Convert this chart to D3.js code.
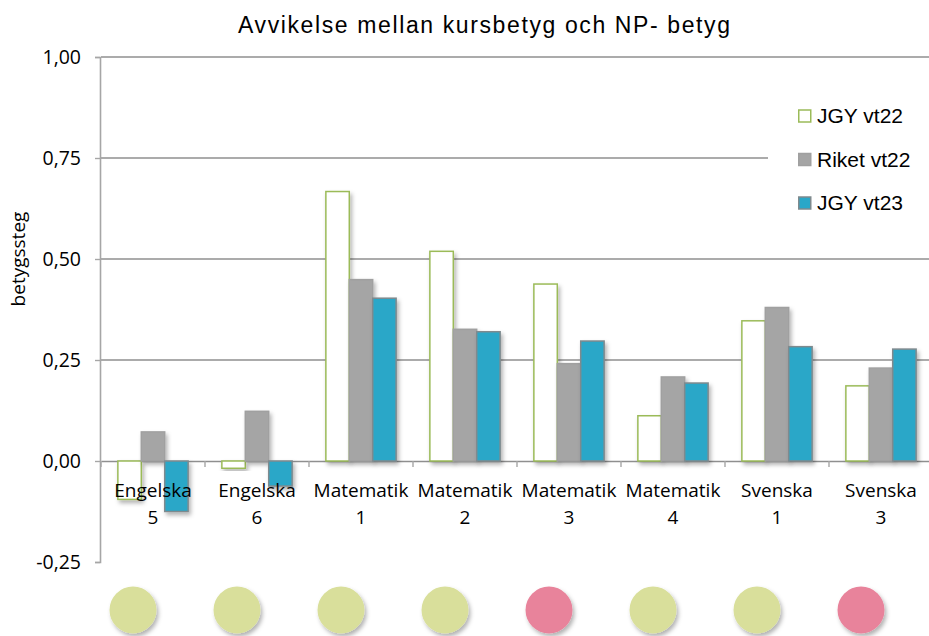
<!DOCTYPE html>
<html>
<head>
<meta charset="utf-8">
<script src="https://cdn.jsdelivr.net/npm/d3@7"></script>
<style>
    html, body { margin: 0; padding: 0; background: #fff; }
    #chart { width: 929px; height: 636px; }
</style>
</head>
<body>
<div id="chart"></div>
<script>
// data
const categories = ["Engelska 5", "Engelska 6", "Matematik 1", "Matematik 2", "Matematik 3", "Matematik 4", "Svenska 1", "Svenska 3"];
const seriesNames = ["JGY vt22", "Riket vt22", "JGY vt23"];
const jgy22 = [-0.095, -0.018, 0.667, 0.519, 0.438, 0.112, 0.347, 0.186];
const riket22 = [0.072, 0.123, 0.449, 0.326, 0.241, 0.208, 0.380, 0.230];
const jgy23 = [-0.125, -0.062, 0.403, 0.320, 0.297, 0.193, 0.283, 0.277];
const yTicks = [-0.25, 0, 0.25, 0.5, 0.75, 1];
const status = ["ok", "ok", "ok", "ok", "low", "ok", "ok", "low"];

var svg;
var x0, x1, y;

const W = 929, H = 636;
const plot = { left: 101, right: 933, top: 57, bottom: 562 };

// swedish decimal comma, plain hyphen for negatives
const fmt = v => d3.format(".2f")(v).replace(".", ",").replace("\u2212", "-");

function drawChart() {
    svg = d3.select("#chart").append("svg")
        .attr("width", W)
        .attr("height", H);

    const defs = svg.append("defs");
    defs.append("filter")
        .attr("id", "shadow")
        .attr("x", "-30%").attr("y", "-30%")
        .attr("width", "160%").attr("height", "160%")
        .append("feDropShadow")
        .attr("dx", 2).attr("dy", 3)
        .attr("stdDeviation", 2)
        .attr("flood-color", "#000")
        .attr("flood-opacity", 0.3);

    x0 = d3.scaleBand()
        .domain(categories)
        .range([plot.left, plot.right]);

    x1 = d3.scaleBand()
        .domain(seriesNames)
        .range([0, x0.bandwidth()])
        .paddingOuter(0.72);

    y = d3.scaleLinear()
        .domain([-0.25, 1])
        .range([plot.bottom, plot.top]);

    // gridlines (none at -0,25 and 0 is the category axis)
    svg.append("g")
        .selectAll("line")
        .data(yTicks.filter(d => d > 0))
        .join("line")
        .attr("x1", plot.left)
        .attr("x2", W)
        .attr("y1", d => y(d))
        .attr("y2", d => y(d))
        .attr("stroke", "#8f8f8f")
        .attr("stroke-width", 1.4);

    // y axis
    const yAxis = d3.axisLeft(y)
        .tickValues(yTicks)
        .tickSize(5)
        .tickPadding(14)
        .tickFormat(fmt);

    const gy = svg.append("g")
        .attr("transform", `translate(${plot.left - 1},0)`)
        .call(yAxis);
    gy.select(".domain").attr("stroke", "#a6a6a6").attr("stroke-width", 1.6);
    gy.selectAll(".tick line").attr("stroke", "#a6a6a6").attr("stroke-width", 1.4);
    gy.selectAll(".tick text")
        .attr("fill", "#000")
        .style("font-family", "'Open Sans', sans-serif")
        .style("font-size", "19.5px");

    svg.append("text")
        .attr("transform", `translate(25,${y(0.5)}) rotate(-90)`)
        .attr("text-anchor", "middle")
        .attr("fill", "#000")
        .style("font-family", "'Open Sans', sans-serif")
        .style("font-size", "19px")
        .text("betygssteg");

    // category axis at zero
    const xAxis = d3.axisBottom(x0)
        .tickSize(0)
        .tickFormat("");
    const gx = svg.append("g")
        .attr("transform", `translate(0,${y(0)})`)
        .call(xAxis);
    gx.select(".domain").attr("stroke", "#8f8f8f").attr("stroke-width", 1.4);

    // tick marks between categories
    svg.append("g")
        .selectAll("line")
        .data(categories)
        .join("line")
        .attr("x1", d => x0(d))
        .attr("x2", d => x0(d))
        .attr("y1", y(0))
        .attr("y2", y(0) + 6)
        .attr("stroke", "#a6a6a6")
        .attr("stroke-width", 1.4);

    // bars
    const rows = categories.map((c, i) => ({
        cat: c,
        vals: [jgy22[i], riket22[i], jgy23[i]]
    }));

    const fills = ["#ffffff", "#a5a5a5", "#2aa7c8"];
    const strokes = ["#9bbb59", "#a0a0a0", "#7f8a8e"];

    const groups = svg.append("g")
        .selectAll("g")
        .data(rows)
        .join("g")
        .attr("transform", d => `translate(${x0(d.cat)},0)`);

    groups.selectAll("rect")
        .data(d => d.vals.map((v, k) => ({ v: v, k: k })))
        .join("rect")
        .attr("x", d => x1(seriesNames[d.k]))
        .attr("y", d => y(Math.max(0, d.v)))
        .attr("width", x1.bandwidth())
        .attr("height", d => Math.abs(y(d.v) - y(0)))
        .attr("fill", d => fills[d.k])
        .attr("stroke", d => strokes[d.k])
        .attr("stroke-width", 1.5)
        .attr("filter", "url(#shadow)");

    // category labels in two lines
    const labels = svg.append("g")
        .selectAll("text")
        .data(categories)
        .join("text")
        .attr("text-anchor", "middle")
        .attr("fill", "#000")
        .style("font-family", "'Open Sans', sans-serif")
        .style("font-size", "19px");
    labels.append("tspan")
        .attr("x", d => x0(d) + x0.bandwidth() / 2)
        .attr("y", 497)
        .text(d => d.slice(0, d.lastIndexOf(" ")));
    labels.append("tspan")
        .attr("x", d => x0(d) + x0.bandwidth() / 2)
        .attr("y", 524)
        .text(d => d.slice(d.lastIndexOf(" ") + 1));

    // status circles under each category
    svg.append("g")
        .selectAll("circle")
        .data(categories)
        .join("circle")
        .attr("cx", d => x0(d) + x0.bandwidth() / 2 - 20)
        .attr("cy", 610)
        .attr("r", 23.5)
        .attr("fill", (d, i) => status[i] == "low" ? "#e8839b" : "#d9df9b")
        .attr("filter", "url(#shadow)");

    drawLegend(fills, strokes);

    svg.append("text")
        .attr("x", 484)
        .attr("y", 33)
        .attr("text-anchor", "middle")
        .attr("fill", "#000")
        .attr("textLength", 492)
        .attr("lengthAdjust", "spacing")
        .style("font-family", "'Liberation Sans', Arial, sans-serif")
        .style("font-size", "23px")
        .text("Avvikelse mellan kursbetyg och NP- betyg");
}

function drawLegend(fills, strokes) {
    const lg = svg.append("g");
    lg.append("rect")
        .attr("x", 768)
        .attr("y", 92)
        .attr("width", W - 768)
        .attr("height", 136)
        .attr("fill", "#fff");

    const item = lg.selectAll("g")
        .data(seriesNames)
        .join("g")
        .attr("transform", (d, i) => `translate(798,${116 + i * 43.5})`);

    item.append("rect")
        .attr("x", 0.75)
        .attr("y", -6)
        .attr("width", 12)
        .attr("height", 12)
        .attr("fill", (d, i) => fills[i])
        .attr("stroke", (d, i) => strokes[i])
        .attr("stroke-width", 1.5);

    item.append("text")
        .attr("x", 19)
        .attr("dy", "0.35em")
        .attr("fill", "#000")
        .style("font-family", "'Liberation Sans', Arial, sans-serif")
        .style("font-size", "21px")
        .text(d => d);
}

document.addEventListener("DOMContentLoaded", () => {
    drawChart();
});
</script>
</body>
</html>
